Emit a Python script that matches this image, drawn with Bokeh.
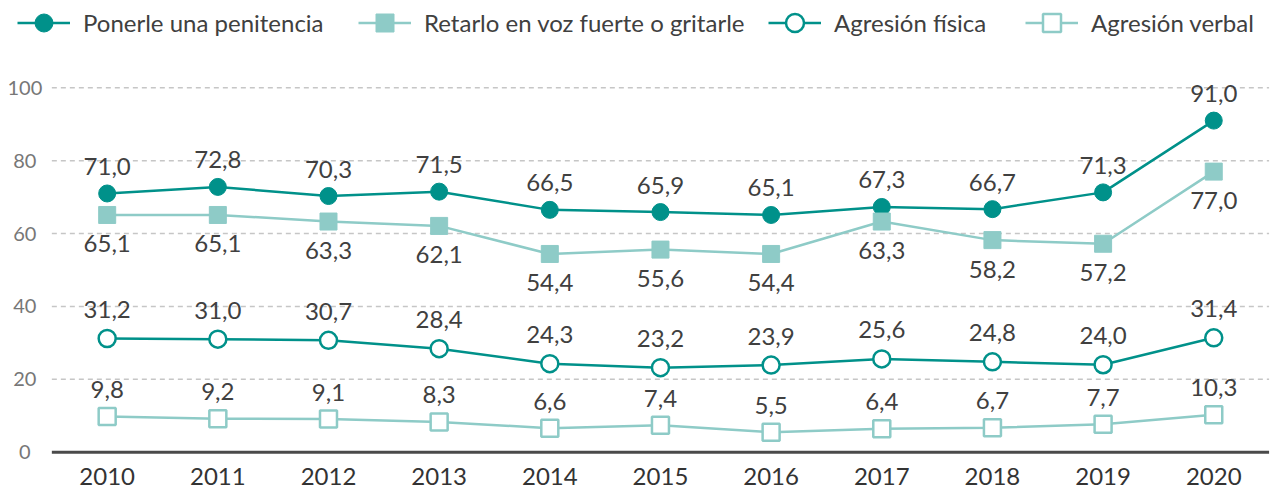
from bokeh.plotting import figure
from bokeh.models import Range1d, Legend, LegendItem, ColumnDataSource
from bokeh.core.properties import value
from bokeh.embed import file_html
from bokeh.resources import INLINE

years = ["2010", "2011", "2012", "2013", "2014", "2015", "2016", "2017", "2018", "2019", "2020"]
penitencia = [71.0, 72.8, 70.3, 71.5, 66.5, 65.9, 65.1, 67.3, 66.7, 71.3, 91.0]
gritarle = [65.1, 65.1, 63.3, 62.1, 54.4, 55.6, 54.4, 63.3, 58.2, 57.2, 77.0]
fisica = [31.2, 31.0, 30.7, 28.4, 24.3, 23.2, 23.9, 25.6, 24.8, 24.0, 31.4]
verbal = [9.8, 9.2, 9.1, 8.3, 6.6, 7.4, 5.5, 6.4, 6.7, 7.7, 10.3]
names = ["Ponerle una penitencia", "Retarlo en voz fuerte o gritarle", "Agresión física", "Agresión verbal"]
y_ticks = [0, 20, 40, 60, 80, 100]

FONT = "Lato"
DARK = "#00918A"
LIGHT = "#8ECBC7"
TEXT = "#404040"

W, H = 1275, 489
xs = list(range(len(years)))
x_lo, x_hi = -0.5, len(years) - 0.5

p = figure(width=W, height=H, x_range=Range1d(-0.964, 10.558), y_range=Range1d(-10.24, 123.96),
           output_backend="svg", toolbar_location=None,
           x_axis_location=None, y_axis_location=None,
           min_border_left=0, min_border_right=0, min_border_top=0, min_border_bottom=0)
p.outline_line_color = None
p.grid.visible = False

# grid lines (dashed) and baseline
grid_y = [t for t in y_ticks if t > 0]
p.segment(x0=[x_lo] * len(grid_y), x1=[x_hi] * len(grid_y), y0=grid_y, y1=grid_y,
          line_color="#c6c6c6", line_width=1.5, line_dash="5 4")
p.segment(x0=[x_lo], x1=[x_hi], y0=[0], y1=[0], line_color="#4a4a4a", line_width=3)

# y tick labels
p.text(x=[x_lo] * len(y_ticks), y=y_ticks, text=[str(t) for t in y_ticks], x_offset=-27,
       text_font=value(FONT), text_font_size="20px", text_color="#777777",
       text_align="center", text_baseline="middle")
# x tick labels
p.text(x=xs, y=[0] * len(xs), text=years, y_offset=24,
       text_font=value(FONT), text_font_size="24px", text_color="#333333",
       text_align="center", text_baseline="middle")

series = [
    (penitencia, DARK, "circle", DARK, -27),
    (gritarle, LIGHT, "square", LIGHT, 29),
    (fisica, DARK, "circle", "white", -29),
    (verbal, LIGHT, "square", "white", -27),
]
legend_x = [17, 358, 768, 1025]

for (vals, col, marker, fill, off), name, lx in zip(series, names, legend_x):
    src = ColumnDataSource(dict(x=xs, y=vals, lab=[f"{v:.1f}".replace(".", ",") for v in vals]))
    ln = p.line("x", "y", source=src, line_color=col, line_width=2.5)
    sc = p.scatter("x", "y", source=src, marker=marker, size=17, fill_color=fill,
                   line_color=col, line_width=2.5 if fill == "white" else 1)
    p.text("x", "y", text="lab", source=src, text_font=value(FONT), text_font_size="24px",
           text_color=TEXT, text_align="center", text_baseline="middle", y_offset=off)
    lg = Legend(items=[LegendItem(label=name, renderers=[ln, sc])], location=(lx, H - 23 - 22),
                label_text_font=FONT, label_text_font_size="24px", label_text_color=TEXT,
                glyph_width=53, glyph_height=45, label_height=45, label_standoff=13,
                padding=0, margin=0, background_fill_alpha=0, border_line_color=None)
    p.add_layout(lg)

open("out.html", "w").write(file_html(p, INLINE))
